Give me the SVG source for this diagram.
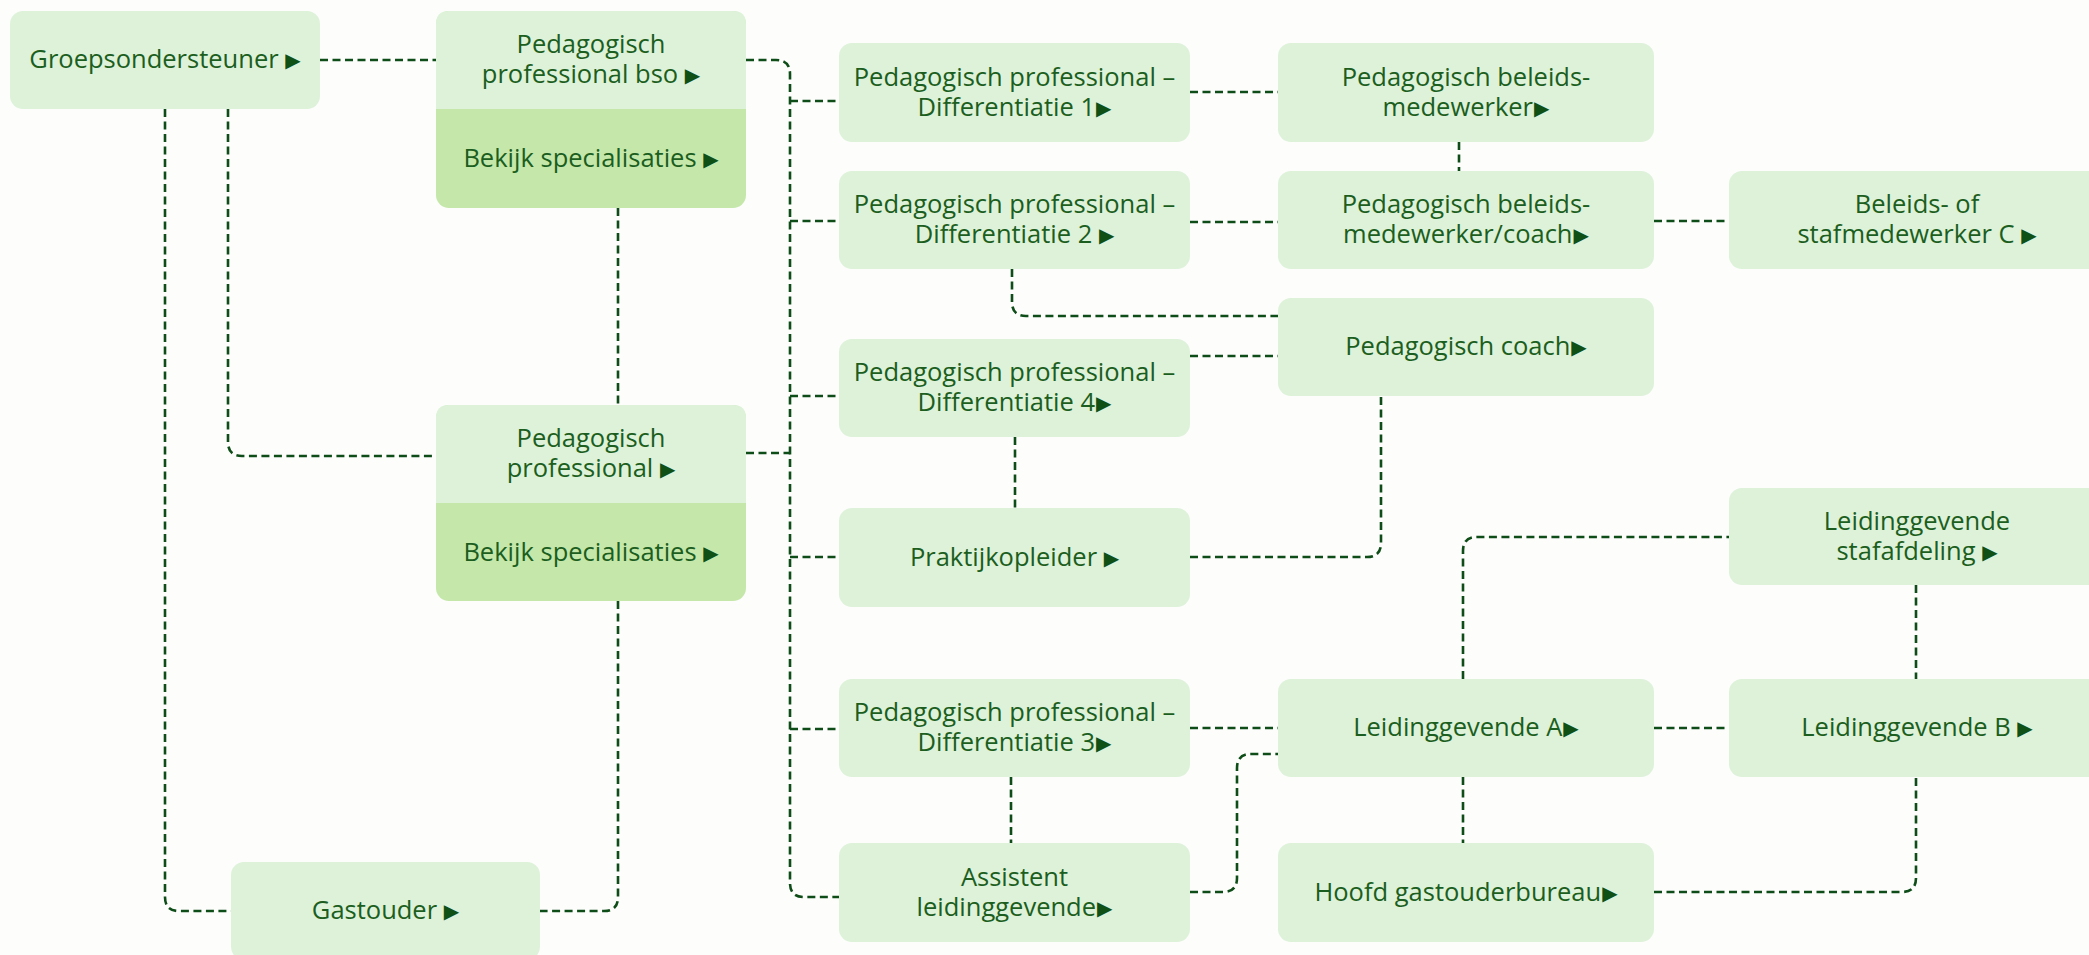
<svg xmlns="http://www.w3.org/2000/svg" width="2089" height="955" viewBox="0 0 2089 955">
<style>
.bg{fill:#fdfdfc}
.box{fill:#ddf2d9}
.dark{fill:#c5e8aa}
.t{font-family:"Open Sans","Liberation Sans",sans-serif;font-size:25.5px;fill:#1b5e20;text-anchor:middle}
.arr{font-family:"DejaVu Sans",sans-serif;font-size:20px;fill:#0f5016}
.c{fill:none;stroke:#0e4d17;stroke-width:2.6;stroke-dasharray:8 4.5}
</style>
<rect class="bg" x="0" y="0" width="2089" height="955"/>
<g id="connectors">
<path class="c" d="M320,60 H436"/>
<path class="c" d="M165,109 V897 Q165,911 179,911 H231"/>
<path class="c" d="M228,109 V442 Q228,456 242,456 H436"/>
<path class="c" d="M618,208 V405"/>
<path class="c" d="M618,601 V897 Q618,911 604,911 H540"/>
<path class="c" d="M746,60 H776 Q790,60 790,74 V883 Q790,897 804,897 H839"/>
<path class="c" d="M790,101 H839"/>
<path class="c" d="M790,221 H839"/>
<path class="c" d="M790,396 H839"/>
<path class="c" d="M746,453 H790"/>
<path class="c" d="M790,557 H839"/>
<path class="c" d="M790,729 H839"/>
<path class="c" d="M1190,92 H1278"/>
<path class="c" d="M1459,142 V171"/>
<path class="c" d="M1190,222 H1278"/>
<path class="c" d="M1654,221 H1729"/>
<path class="c" d="M1012,269 V302 Q1012,316 1026,316 H1278"/>
<path class="c" d="M1190,356 H1278"/>
<path class="c" d="M1015,437 V508"/>
<path class="c" d="M1190,557 H1367 Q1381,557 1381,543 V396"/>
<path class="c" d="M1190,728 H1278"/>
<path class="c" d="M1011,777 V843"/>
<path class="c" d="M1190,892 H1223 Q1237,892 1237,878 V768 Q1237,754 1251,754 H1278"/>
<path class="c" d="M1463,679 V551 Q1463,537 1477,537 H1729"/>
<path class="c" d="M1463,777 V843"/>
<path class="c" d="M1654,728 H1729"/>
<path class="c" d="M1916,585 V679"/>
<path class="c" d="M1654,892 H1902 Q1916,892 1916,878 V777"/>
</g>
<g id="groepsondersteuner">
<rect class="box" x="10" y="11" width="310" height="98" rx="13"/>
<text class="t" x="165" y="68">Groepsondersteuner <tspan class="arr" dy="-1">▶</tspan></text>
</g>
<g id="pp-bso">
<rect class="dark" x="436" y="11" width="310" height="197" rx="13"/>
<path class="box" d="M436,109 V24 Q436,11 449,11 H733 Q746,11 746,24 V109 Z"/>
<text class="t"><tspan x="591" y="53">Pedagogisch</tspan><tspan x="591" y="83">professional bso </tspan><tspan class="arr" dy="-1">▶</tspan></text>
<text class="t" x="591" y="167">Bekijk specialisaties <tspan class="arr" dy="-1">▶</tspan></text>
</g>
<g id="pp">
<rect class="dark" x="436" y="405" width="310" height="196" rx="13"/>
<path class="box" d="M436,503 V418 Q436,405 449,405 H733 Q746,405 746,418 V503 Z"/>
<text class="t"><tspan x="591" y="447">Pedagogisch</tspan><tspan x="591" y="477">professional </tspan><tspan class="arr" dy="-1">▶</tspan></text>
<text class="t" x="591" y="561">Bekijk specialisaties <tspan class="arr" dy="-1">▶</tspan></text>
</g>
<g id="gastouder">
<rect class="box" x="231" y="862" width="309" height="98" rx="13"/>
<text class="t" x="385.5" y="919">Gastouder <tspan class="arr" dy="-1">▶</tspan></text>
</g>
<g id="diff1">
<rect class="box" x="839" y="43" width="351" height="99" rx="13"/>
<text class="t"><tspan x="1014.5" y="86">Pedagogisch professional –</tspan><tspan x="1014.5" y="116">Differentiatie 1</tspan><tspan class="arr" dx="1" dy="-1">▶</tspan></text>
</g>
<g id="diff2">
<rect class="box" x="839" y="171" width="351" height="98" rx="13"/>
<text class="t"><tspan x="1014.5" y="213">Pedagogisch professional –</tspan><tspan x="1014.5" y="243">Differentiatie 2 </tspan><tspan class="arr" dy="-1">▶</tspan></text>
</g>
<g id="diff4">
<rect class="box" x="839" y="339" width="351" height="98" rx="13"/>
<text class="t"><tspan x="1014.5" y="381">Pedagogisch professional –</tspan><tspan x="1014.5" y="411">Differentiatie 4</tspan><tspan class="arr" dx="1" dy="-1">▶</tspan></text>
</g>
<g id="praktijkopleider">
<rect class="box" x="839" y="508" width="351" height="99" rx="13"/>
<text class="t" x="1014.5" y="566">Praktijkopleider <tspan class="arr" dy="-1">▶</tspan></text>
</g>
<g id="diff3">
<rect class="box" x="839" y="679" width="351" height="98" rx="13"/>
<text class="t"><tspan x="1014.5" y="721">Pedagogisch professional –</tspan><tspan x="1014.5" y="751">Differentiatie 3</tspan><tspan class="arr" dx="1" dy="-1">▶</tspan></text>
</g>
<g id="assistent">
<rect class="box" x="839" y="843" width="351" height="99" rx="13"/>
<text class="t"><tspan x="1014.5" y="886">Assistent</tspan><tspan x="1014.5" y="916">leidinggevende</tspan><tspan class="arr" dx="1" dy="-1">▶</tspan></text>
</g>
<g id="beleidsmedewerker">
<rect class="box" x="1278" y="43" width="376" height="99" rx="13"/>
<text class="t"><tspan x="1466" y="86">Pedagogisch beleids-</tspan><tspan x="1466" y="116">medewerker</tspan><tspan class="arr" dx="1" dy="-1">▶</tspan></text>
</g>
<g id="beleidsmedewerker-coach">
<rect class="box" x="1278" y="171" width="376" height="98" rx="13"/>
<text class="t"><tspan x="1466" y="213">Pedagogisch beleids-</tspan><tspan x="1466" y="243">medewerker/coach</tspan><tspan class="arr" dx="1" dy="-1">▶</tspan></text>
</g>
<g id="pedagogisch-coach">
<rect class="box" x="1278" y="298" width="376" height="98" rx="13"/>
<text class="t" x="1466" y="355">Pedagogisch coach<tspan class="arr" dx="1" dy="-1">▶</tspan></text>
</g>
<g id="leidinggevende-a">
<rect class="box" x="1278" y="679" width="376" height="98" rx="13"/>
<text class="t" x="1466" y="736">Leidinggevende A<tspan class="arr" dx="1" dy="-1">▶</tspan></text>
</g>
<g id="hoofd-gastouderbureau">
<rect class="box" x="1278" y="843" width="376" height="99" rx="13"/>
<text class="t" x="1466" y="901">Hoofd gastouderbureau<tspan class="arr" dx="1" dy="-1">▶</tspan></text>
</g>
<g id="beleids-c">
<rect class="box" x="1729" y="171" width="376" height="98" rx="13"/>
<text class="t"><tspan x="1917" y="213">Beleids- of</tspan><tspan x="1917" y="243">stafmedewerker C </tspan><tspan class="arr" dy="-1">▶</tspan></text>
</g>
<g id="stafafdeling">
<rect class="box" x="1729" y="488" width="376" height="97" rx="13"/>
<text class="t"><tspan x="1917" y="530">Leidinggevende</tspan><tspan x="1917" y="560">stafafdeling </tspan><tspan class="arr" dy="-1">▶</tspan></text>
</g>
<g id="leidinggevende-b">
<rect class="box" x="1729" y="679" width="376" height="98" rx="13"/>
<text class="t" x="1917" y="736">Leidinggevende B <tspan class="arr" dy="-1">▶</tspan></text>
</g>
</svg>
